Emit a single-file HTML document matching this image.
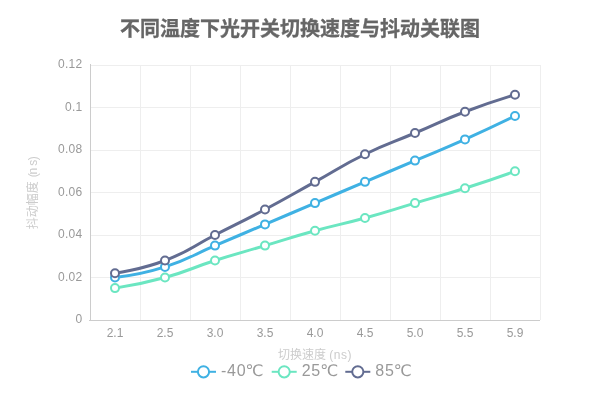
<!DOCTYPE html>
<html><head><meta charset="utf-8"><style>
html,body{margin:0;padding:0;background:#fff;}
body{width:600px;height:400px;overflow:hidden;}
svg{display:block;will-change:transform;font-family:"Liberation Sans","Noto Sans CJK SC",sans-serif;}
.al{font-size:12px;fill:#999999;}
.an{font-size:12px;fill:#cccccc;}
.tt{font-size:20px;font-weight:bold;fill:#666666;stroke:#666666;stroke-width:0.3px;}
.dc{font-family:"DejaVu Sans",sans-serif;}
.lg{font-size:16px;letter-spacing:0.7px;fill:#999999;}
</style></head><body>
<svg width="600" height="400" viewBox="0 0 600 400">
<rect width="600" height="400" fill="#fff"/>
<text x="300" y="29" text-anchor="middle" dominant-baseline="central" class="tt">不同温度下光开关切换速度与抖动关联图</text>
<line x1="90" y1="65.5" x2="540" y2="65.5" stroke="#eeeeee" stroke-width="1"/>
<line x1="90" y1="107.5" x2="540" y2="107.5" stroke="#eeeeee" stroke-width="1"/>
<line x1="90" y1="150.5" x2="540" y2="150.5" stroke="#eeeeee" stroke-width="1"/>
<line x1="90" y1="192.5" x2="540" y2="192.5" stroke="#eeeeee" stroke-width="1"/>
<line x1="90" y1="235.5" x2="540" y2="235.5" stroke="#eeeeee" stroke-width="1"/>
<line x1="90" y1="277.5" x2="540" y2="277.5" stroke="#eeeeee" stroke-width="1"/>
<line x1="90" y1="320.5" x2="540" y2="320.5" stroke="#eeeeee" stroke-width="1"/>
<line x1="90.5" y1="65" x2="90.5" y2="320" stroke="#eeeeee" stroke-width="1"/>
<line x1="140.5" y1="65" x2="140.5" y2="320" stroke="#eeeeee" stroke-width="1"/>
<line x1="190.5" y1="65" x2="190.5" y2="320" stroke="#eeeeee" stroke-width="1"/>
<line x1="240.5" y1="65" x2="240.5" y2="320" stroke="#eeeeee" stroke-width="1"/>
<line x1="290.5" y1="65" x2="290.5" y2="320" stroke="#eeeeee" stroke-width="1"/>
<line x1="340.5" y1="65" x2="340.5" y2="320" stroke="#eeeeee" stroke-width="1"/>
<line x1="390.5" y1="65" x2="390.5" y2="320" stroke="#eeeeee" stroke-width="1"/>
<line x1="440.5" y1="65" x2="440.5" y2="320" stroke="#eeeeee" stroke-width="1"/>
<line x1="490.5" y1="65" x2="490.5" y2="320" stroke="#eeeeee" stroke-width="1"/>
<line x1="540.5" y1="65" x2="540.5" y2="320" stroke="#eeeeee" stroke-width="1"/>
<line x1="90.5" y1="64" x2="90.5" y2="320" stroke="#cccccc" stroke-width="1"/>
<line x1="89" y1="320.5" x2="540" y2="320.5" stroke="#cccccc" stroke-width="1"/>
<text x="82.4" y="319.0" text-anchor="end" dominant-baseline="central" class="al" letter-spacing="0.25">0</text>
<text x="82.4" y="276.5" text-anchor="end" dominant-baseline="central" class="al" letter-spacing="0.25">0.02</text>
<text x="82.4" y="234.0" text-anchor="end" dominant-baseline="central" class="al" letter-spacing="0.25">0.04</text>
<text x="82.4" y="191.5" text-anchor="end" dominant-baseline="central" class="al" letter-spacing="0.25">0.06</text>
<text x="82.4" y="149.0" text-anchor="end" dominant-baseline="central" class="al" letter-spacing="0.25">0.08</text>
<text x="82.4" y="106.5" text-anchor="end" dominant-baseline="central" class="al" letter-spacing="0.25">0.1</text>
<text x="82.4" y="64.0" text-anchor="end" dominant-baseline="central" class="al" letter-spacing="0.25">0.12</text>
<text x="115.0" y="328" text-anchor="middle" dominant-baseline="hanging" class="al">2.1</text>
<text x="165.0" y="328" text-anchor="middle" dominant-baseline="hanging" class="al">2.5</text>
<text x="215.0" y="328" text-anchor="middle" dominant-baseline="hanging" class="al">3.0</text>
<text x="265.0" y="328" text-anchor="middle" dominant-baseline="hanging" class="al">3.5</text>
<text x="315.0" y="328" text-anchor="middle" dominant-baseline="hanging" class="al">4.0</text>
<text x="365.0" y="328" text-anchor="middle" dominant-baseline="hanging" class="al">4.5</text>
<text x="415.0" y="328" text-anchor="middle" dominant-baseline="hanging" class="al">5.0</text>
<text x="465.0" y="328" text-anchor="middle" dominant-baseline="hanging" class="al">5.5</text>
<text x="515.0" y="328" text-anchor="middle" dominant-baseline="hanging" class="al">5.9</text>
<text x="315.0" y="355.3" text-anchor="middle" dominant-baseline="central" class="an">切换速度 <tspan letter-spacing="0.5">(ns)</tspan></text>
<text transform="translate(33 192.8) rotate(-90)" text-anchor="middle" dominant-baseline="central" class="an">抖动幅度 <tspan dx="0.8">(</tspan><tspan dx="-1.25">n</tspan><tspan dx="2.15">s</tspan><tspan dx="-0.6">)</tspan></text>
<path d="M115.00 277.50 C115.00 277.50 140.76 274.60 165.00 266.88 C190.76 258.66 190.00 256.25 215.00 245.62 C240.00 235.00 240.00 235.00 265.00 224.38 C290.00 213.75 290.00 213.75 315.00 203.12 C340.00 192.50 340.00 192.50 365.00 181.87 C390.00 171.25 390.00 171.25 415.00 160.62 C440.00 150.00 440.20 150.44 465.00 139.38 C490.20 128.13 515.00 116.00 515.00 116.00" fill="none" stroke="#3fb1e3" stroke-width="3" stroke-linejoin="bevel"/>
<path d="M115.00 288.12 C115.00 288.12 140.41 284.29 165.00 277.50 C190.41 270.48 189.85 268.52 215.00 260.50 C239.85 252.58 240.00 253.06 265.00 245.62 C290.00 238.19 289.86 237.69 315.00 230.75 C339.86 223.88 340.14 224.87 365.00 218.00 C390.14 211.06 390.00 210.56 415.00 203.12 C440.00 195.69 440.15 196.17 465.00 188.25 C490.15 180.23 515.00 171.25 515.00 171.25" fill="none" stroke="#6be6c1" stroke-width="3" stroke-linejoin="bevel"/>
<path d="M115.00 273.25 C115.00 273.25 141.05 269.66 165.00 260.50 C191.05 250.54 190.00 247.75 215.00 235.00 C240.00 222.25 240.22 222.66 265.00 209.50 C290.22 196.10 290.00 195.69 315.00 181.87 C340.00 168.06 339.37 166.78 365.00 154.25 C389.37 142.34 390.00 143.62 415.00 133.00 C440.00 122.38 439.65 121.45 465.00 111.75 C489.65 102.32 515.00 94.75 515.00 94.75" fill="none" stroke="#626c91" stroke-width="3" stroke-linejoin="bevel"/>
<circle cx="115.00" cy="277.50" r="4" fill="#fff" stroke="#3fb1e3" stroke-width="2"/>
<circle cx="165.00" cy="266.88" r="4" fill="#fff" stroke="#3fb1e3" stroke-width="2"/>
<circle cx="215.00" cy="245.62" r="4" fill="#fff" stroke="#3fb1e3" stroke-width="2"/>
<circle cx="265.00" cy="224.38" r="4" fill="#fff" stroke="#3fb1e3" stroke-width="2"/>
<circle cx="315.00" cy="203.12" r="4" fill="#fff" stroke="#3fb1e3" stroke-width="2"/>
<circle cx="365.00" cy="181.87" r="4" fill="#fff" stroke="#3fb1e3" stroke-width="2"/>
<circle cx="415.00" cy="160.62" r="4" fill="#fff" stroke="#3fb1e3" stroke-width="2"/>
<circle cx="465.00" cy="139.38" r="4" fill="#fff" stroke="#3fb1e3" stroke-width="2"/>
<circle cx="515.00" cy="116.00" r="4" fill="#fff" stroke="#3fb1e3" stroke-width="2"/>
<circle cx="115.00" cy="288.12" r="4" fill="#fff" stroke="#6be6c1" stroke-width="2"/>
<circle cx="165.00" cy="277.50" r="4" fill="#fff" stroke="#6be6c1" stroke-width="2"/>
<circle cx="215.00" cy="260.50" r="4" fill="#fff" stroke="#6be6c1" stroke-width="2"/>
<circle cx="265.00" cy="245.62" r="4" fill="#fff" stroke="#6be6c1" stroke-width="2"/>
<circle cx="315.00" cy="230.75" r="4" fill="#fff" stroke="#6be6c1" stroke-width="2"/>
<circle cx="365.00" cy="218.00" r="4" fill="#fff" stroke="#6be6c1" stroke-width="2"/>
<circle cx="415.00" cy="203.12" r="4" fill="#fff" stroke="#6be6c1" stroke-width="2"/>
<circle cx="465.00" cy="188.25" r="4" fill="#fff" stroke="#6be6c1" stroke-width="2"/>
<circle cx="515.00" cy="171.25" r="4" fill="#fff" stroke="#6be6c1" stroke-width="2"/>
<circle cx="115.00" cy="273.25" r="4" fill="#fff" stroke="#626c91" stroke-width="2"/>
<circle cx="165.00" cy="260.50" r="4" fill="#fff" stroke="#626c91" stroke-width="2"/>
<circle cx="215.00" cy="235.00" r="4" fill="#fff" stroke="#626c91" stroke-width="2"/>
<circle cx="265.00" cy="209.50" r="4" fill="#fff" stroke="#626c91" stroke-width="2"/>
<circle cx="315.00" cy="181.87" r="4" fill="#fff" stroke="#626c91" stroke-width="2"/>
<circle cx="365.00" cy="154.25" r="4" fill="#fff" stroke="#626c91" stroke-width="2"/>
<circle cx="415.00" cy="133.00" r="4" fill="#fff" stroke="#626c91" stroke-width="2"/>
<circle cx="465.00" cy="111.75" r="4" fill="#fff" stroke="#626c91" stroke-width="2"/>
<circle cx="515.00" cy="94.75" r="4" fill="#fff" stroke="#626c91" stroke-width="2"/>
<line x1="191" y1="371.8" x2="216" y2="371.8" stroke="#3fb1e3" stroke-width="2"/>
<circle cx="203.5" cy="371.8" r="5.6" fill="#fff" stroke="#3fb1e3" stroke-width="2"/>
<text x="221" y="375.7" class="lg">-40<tspan class="dc" dx="-1">℃</tspan></text>
<line x1="271.7" y1="371.8" x2="296.7" y2="371.8" stroke="#6be6c1" stroke-width="2"/>
<circle cx="284.2" cy="371.8" r="5.6" fill="#fff" stroke="#6be6c1" stroke-width="2"/>
<text x="301.7" y="375.7" class="lg">25<tspan class="dc" dx="-1">℃</tspan></text>
<line x1="345.3" y1="371.8" x2="370.3" y2="371.8" stroke="#626c91" stroke-width="2"/>
<circle cx="357.8" cy="371.8" r="5.6" fill="#fff" stroke="#626c91" stroke-width="2"/>
<text x="375.3" y="375.7" class="lg">85<tspan class="dc" dx="-1">℃</tspan></text>
</svg>
</body></html>
